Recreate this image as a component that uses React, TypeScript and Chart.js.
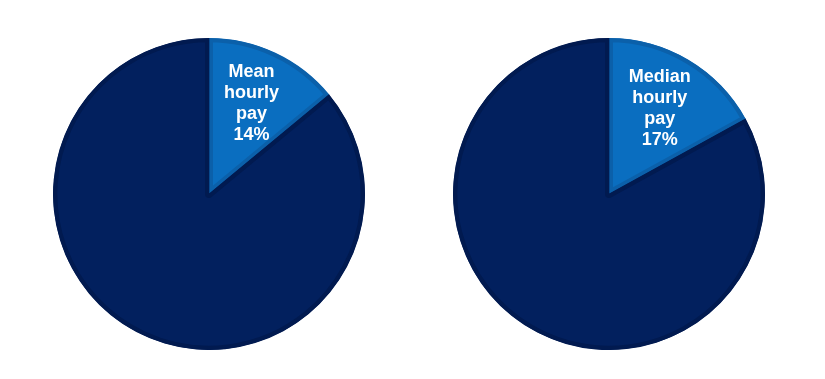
import React, { useEffect, useRef } from "react";
import { Chart, registerables } from "chart.js";

Chart.register(...registerables);

const segments = ["Gap", "Rest"];
const meanValues = [14, 86];
const medianValues = [17, 83];
const meanLabel = ["Mean", "hourly", "pay", "14%"];
const medianLabel = ["Median", "hourly", "pay", "17%"];

const fillColors = ["#0a6ec0", "#02205e"];
const borderColors = ["#0b60aa", "#011a50"];

const labelPlugin = {
  id: "sliceLabel",
  afterDatasetsDraw(chart: any) {
    const lines: string[] = chart.options.plugins.sliceLabel.lines;
    const arc = chart.getDatasetMeta(0).data[0];
    if (!arc) return;
    const { x, y, startAngle, endAngle, outerRadius } = arc.getProps(
      ["x", "y", "startAngle", "endAngle", "outerRadius"],
      true
    );
    const mid = (startAngle + endAngle) / 2;
    const r = outerRadius * 0.64;
    const cx = x + Math.cos(mid) * r;
    const cy = y + Math.sin(mid) * r;
    const ctx = chart.ctx;
    ctx.save();
    ctx.fillStyle = "#ffffff";
    ctx.font = "bold 18px 'Liberation Sans', Arial, sans-serif";
    ctx.textAlign = "center";
    ctx.textBaseline = "middle";
    const lh = 21;
    const top = cy - ((lines.length - 1) * lh) / 2;
    lines.forEach((l, i) => ctx.fillText(l, cx, top + i * lh));
    ctx.restore();
  },
};

function Pie({ values, lines, left }: { values: number[]; lines: string[]; left: number }) {
  const ref = useRef<HTMLCanvasElement | null>(null);
  useEffect(() => {
    if (!ref.current) return;
    const chart = new Chart(ref.current, {
      type: "pie",
      data: {
        labels: segments,
        datasets: [
          {
            data: values,
            backgroundColor: fillColors,
            borderColor: borderColors,
            borderWidth: 4,
            borderAlign: "inner",
          } as any,
        ],
      },
      options: {
        animation: false,
        responsive: false,
        maintainAspectRatio: false,
        layout: { padding: 0 },
        plugins: {
          legend: { display: false },
          tooltip: { enabled: false },
          sliceLabel: { lines },
        } as any,
      },
      plugins: [labelPlugin],
    });
    return () => chart.destroy();
  }, []);
  return (
    <canvas
      ref={ref}
      width={312}
      height={312}
      style={{ position: "absolute", left, top: 38, width: 312, height: 312 }}
    />
  );
}

export default function App() {
  return (
    <div
      style={{
        position: "absolute",
        left: 0,
        top: 0,
        width: 825,
        height: 379,
        background: "#ffffff",
        overflow: "hidden",
      }}
    >
      <Pie values={meanValues} lines={meanLabel} left={53} />
      <Pie values={medianValues} lines={medianLabel} left={453} />
    </div>
  );
}
